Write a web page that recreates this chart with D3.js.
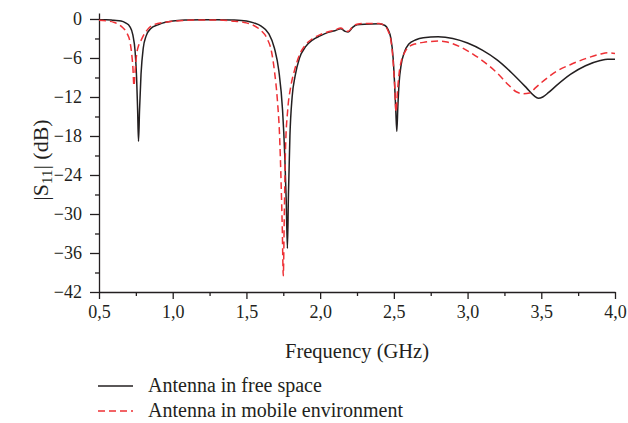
<!DOCTYPE html>
<html>
<head>
<meta charset="utf-8">
<script src="https://cdn.jsdelivr.net/npm/d3@7"></script>
<style>
  body { margin: 0; background: #fff; }
  svg { display: block; }
  text { font-family: "Liberation Serif", "DejaVu Serif", serif; fill: #231f20; }
  .axis path, .axis line { stroke: #231f20; stroke-width: 1.3; }
</style>
</head>
<body>
<div id="canvas"></div>
<script>
// free space measurement
const freqFree = [0.5, 0.55, 0.6, 0.65, 0.68, 0.71, 0.73, 0.745, 0.755, 0.762, 0.768, 0.775, 0.785, 0.8, 0.82, 0.85, 0.9, 0.95,
  1.0, 1.1, 1.2, 1.3, 1.4, 1.5, 1.55, 1.6, 1.65, 1.69, 1.72, 1.745, 1.76, 1.77, 1.778, 1.785, 1.795, 1.81, 1.83, 1.86, 1.9, 1.95,
  2.0, 2.05, 2.1, 2.14, 2.17, 2.19, 2.22, 2.25, 2.3, 2.4, 2.44, 2.46, 2.48, 2.495, 2.505, 2.513, 2.52, 2.527, 2.535, 2.55, 2.57,
  2.6, 2.65, 2.7, 2.8, 2.9, 3.0, 3.1, 3.2, 3.3, 3.4, 3.45, 3.48, 3.51, 3.55, 3.6, 3.7, 3.8, 3.9, 3.95, 4.0];
const s11Free = [-0.1, -0.1, -0.2, -0.3, -0.6, -1.2, -2.5, -5, -9, -14, -18.8, -14, -8.5, -4.5, -2.6, -1.5, -0.9, -0.5,
  -0.3, -0.15, -0.1, -0.1, -0.15, -0.3, -0.6, -1.1, -2.2, -4.5, -8, -14, -21, -28, -35.3, -27, -18, -12, -8.8, -6, -4.3, -3.2,
  -2.6, -2.1, -1.8, -1.5, -1.9, -2.0, -1.3, -0.9, -0.8, -0.75, -1.0, -1.6, -3.0, -6, -10, -14, -17.3, -13.5, -10, -7, -5.2,
  -3.9, -3.2, -2.9, -2.75, -3.0, -3.7, -4.8, -6.3, -8.3, -10.6, -11.8, -12.2, -12.0, -11.3, -10.3, -8.5, -7.2, -6.4, -6.2, -6.2];

// mobile environment measurement
const freqMobile = [0.5, 0.55, 0.6, 0.63, 0.66, 0.69, 0.71, 0.72, 0.73, 0.737, 0.745, 0.755, 0.77, 0.785, 0.8, 0.83, 0.87, 0.95,
  1.0, 1.1, 1.2, 1.3, 1.4, 1.5, 1.55, 1.6, 1.64, 1.67, 1.69, 1.71, 1.725, 1.735, 1.743, 1.75, 1.757, 1.765, 1.78, 1.8, 1.825, 1.86,
  1.9, 1.95, 2.0, 2.05, 2.1, 2.14, 2.17, 2.19, 2.22, 2.25, 2.3, 2.4, 2.44, 2.46, 2.48, 2.495, 2.505, 2.515, 2.525, 2.535, 2.55,
  2.57, 2.6, 2.65, 2.7, 2.8, 2.85, 2.9, 3.0, 3.1, 3.2, 3.28, 3.33, 3.38, 3.42, 3.46, 3.5, 3.55, 3.6, 3.7, 3.8, 3.9, 3.95, 4.0];
const s11Mobile = [-0.2, -0.3, -0.5, -0.8, -1.3, -2.2, -3.5, -5, -7.5, -10.3, -8, -5.5, -4, -3.3, -2.6, -1.6, -0.9, -0.5,
  -0.35, -0.2, -0.15, -0.15, -0.3, -0.6, -1.0, -1.8, -3.0, -5, -8, -12.5, -18, -25, -32, -39.5, -30, -20, -14, -10.5, -8, -5.5,
  -4, -3.0, -2.4, -2.0, -1.7, -1.4, -1.8, -1.9, -1.2, -0.8, -0.7, -0.7, -1.1, -1.8, -3.3, -6.5, -10, -14.3, -11, -8.5, -6.5,
  -5.3, -4.3, -3.8, -3.6, -3.4, -3.5, -3.8, -4.9, -6.4, -8.3, -10.2, -11.2, -11.5, -11.4, -10.6, -9.8, -8.9, -8.1, -7, -6.1, -5.4, -5.2, -5.3];

const xTicks = [0.5, 1.0, 1.5, 2.0, 2.5, 3.0, 3.5, 4.0];
const xMinor = [0.75, 1.25, 1.75, 2.25, 2.75, 3.25, 3.75];
const yTicks = [0, -6, -12, -18, -24, -30, -36, -42];
const yMinor = [-3, -9, -15, -21, -27, -33, -39];
const legendLabels = ["Antenna in free space", "Antenna in mobile environment"];

const width = 628, height = 423;
const svg = d3.select('#canvas')
  .append('svg')
    .attr('width', width)
    .attr('height', height);

const x = d3.scaleLinear().domain([0.5, 4.0]).range([99, 615]);
const y = d3.scaleLinear().domain([-42, 0.92]).range([292, 13]);

const fmt = d => d3.format('.1f')(d).replace('.', ',');
const fmtY = d => d === 0 ? '0' : '\u2212' + Math.abs(d);

// minor ticks first so major axis draws over
svg.append('g')
  .attr('class', 'axis')
  .attr('transform', 'translate(0,292)')
  .call(d3.axisBottom(x).tickValues(xMinor).tickSize(4).tickFormat(''))
  .call(g => g.select('.domain').remove());
svg.append('g')
  .attr('class', 'axis')
  .attr('transform', 'translate(99,0)')
  .call(d3.axisLeft(y).tickValues(yMinor).tickSize(4).tickFormat(''))
  .call(g => g.select('.domain').remove());

const xAxis = svg.append('g')
  .attr('class', 'axis')
  .attr('transform', 'translate(0,292)')
  .call(d3.axisBottom(x).tickValues(xTicks).tickSize(7).tickSizeOuter(0).tickPadding(6).tickFormat(fmt));
xAxis.selectAll('text').attr('font-size', 18).style('fill', '#231f20');

const yAxis = svg.append('g')
  .attr('class', 'axis')
  .attr('transform', 'translate(99,0)')
  .call(d3.axisLeft(y).tickValues(yTicks).tickSize(9).tickSizeOuter(0).tickPadding(8).tickFormat(fmtY));
yAxis.selectAll('text').attr('font-size', 18).style('fill', '#231f20');
svg.selectAll('.axis text').style('font-family', '"Liberation Serif", serif');

// titles
svg.append('text')
  .attr('x', 357)
  .attr('y', 358)
  .attr('text-anchor', 'middle')
  .attr('font-size', 20.5)
  .text('Frequency (GHz)');

const yt = svg.append('text')
  .attr('transform', 'translate(48,160) rotate(-90)')
  .attr('text-anchor', 'middle')
  .attr('font-size', 22);
yt.append('tspan').text('|S');
yt.append('tspan').attr('font-size', 15).attr('dy', 4).text('11');
yt.append('tspan').attr('dy', -4).text('| (dB)');

// curves
const line = d3.line()
  .x(d => x(d[0]))
  .y(d => y(d[1]))
  .curve(d3.curveMonotoneX);

const free = freqFree.map((f, i) => [f, s11Free[i]]);
const mobile = freqMobile.map((f, i) => [f, s11Mobile[i]]);

svg.append('path')
  .datum(free)
  .attr('d', line)
  .style('fill', 'none')
  .style('stroke', '#231f20')
  .style('stroke-width', 1.5);

svg.append('path')
  .datum(mobile)
  .attr('d', line)
  .style('fill', 'none')
  .style('stroke', '#ee3035')
  .style('stroke-width', 1.5)
  .style('stroke-dasharray', '7,4');

// legend
const legend = svg.append('g');
legendLabels.forEach((label, i) => {
  const ly = 386 + i * 25;
  legend.append('line')
    .attr('x1', 98).attr('x2', 133)
    .attr('y1', ly).attr('y2', ly)
    .style('stroke', i === 0 ? '#231f20' : '#ee3035')
    .style('stroke-width', 1.5)
    .style('stroke-dasharray', i === 0 ? null : '7,4');
  legend.append('text')
    .attr('x', 148)
    .attr('y', ly + 6)
    .attr('font-size', 20)
    .text(label);
});
</script>
</body>
</html>
